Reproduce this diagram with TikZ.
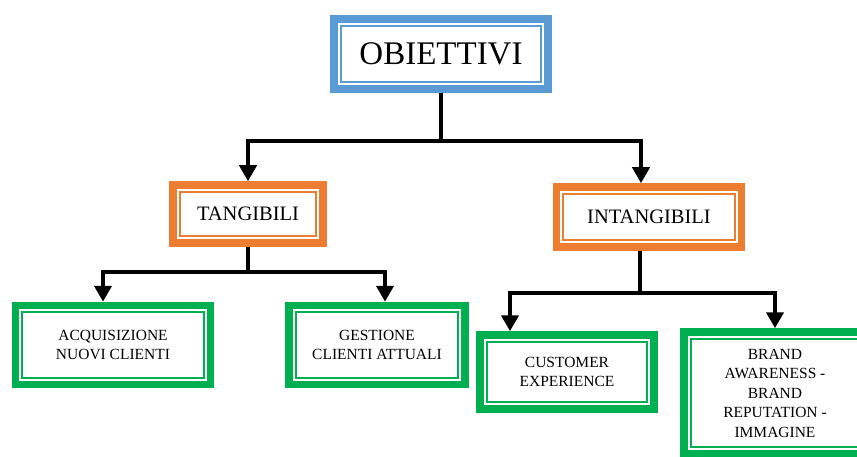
\documentclass[tikz,border=0pt]{standalone}
\usepackage{fontspec}
\setmainfont{Liberation Serif}
\usetikzlibrary{arrows.meta}
\definecolor{obiblue}{HTML}{5B9BD5}
\definecolor{obiorange}{HTML}{ED7D31}
\definecolor{obigreen}{HTML}{00B050}
\tikzset{
  framebox/.style={draw=#1, line width=7.5pt, fill=white, align=center, inner sep=2pt,
    path picture={\draw[#1, line width=2pt]
      ([shift={(6.8pt,6.8pt)}]path picture bounding box.south west) rectangle
      ([shift={(-6.8pt,-6.8pt)}]path picture bounding box.north east);}},
  bigtext/.style={font=\fontsize{33}{38}\selectfont},
  midtext/.style={font=\fontsize{20.5}{24}\selectfont},
  smalltext/.style={font=\fontsize{15.5}{19.5}\selectfont},
  link/.style={line width=4.6pt, black},
  arrowlink/.style={link, -{Triangle[width=17pt,length=16pt]}}
}
\begin{document}
\begin{tikzpicture}[x=1pt,y=1pt]
\useasboundingbox (0,0) rectangle (857,-457);
\node[framebox=obiblue, bigtext, minimum width=214pt, minimum height=70pt] (obj) at (441,-54) {OBIETTIVI};
\node[framebox=obiorange, midtext, minimum width=150pt, minimum height=58pt] (tan) at (248,-214) {TANGIBILI};
\node[framebox=obiorange, midtext, minimum width=185pt, minimum height=60pt] (int) at (649,-217) {INTANGIBILI};
\node[framebox=obigreen, smalltext, minimum width=195pt, minimum height=79pt] (acq) at (113,-345) {ACQUISIZIONE\\NUOVI CLIENTI};
\node[framebox=obigreen, smalltext, minimum width=176pt, minimum height=79pt] (ges) at (377,-345) {GESTIONE\\CLIENTI ATTUALI};
\node[framebox=obigreen, smalltext, minimum width=174pt, minimum height=74pt] (cus) at (567,-372) {CUSTOMER\\EXPERIENCE};
\node[framebox=obigreen, smalltext, minimum width=182pt, minimum height=122pt] (bra) at (775,-393) {BRAND\\AWARENESS -\\BRAND\\REPUTATION -\\IMMAGINE};
\coordinate (topfork) at (441,-141);
\coordinate (tanfork) at (248,-272);
\coordinate (intfork) at (640,-293);
\draw[link] (obj.south) -- (topfork);
\draw[arrowlink] (topfork) -| (tan.north);
\draw[arrowlink] (topfork) -| ([xshift=-8pt]int.north);
\draw[link] (tan.south) -- (tanfork);
\draw[arrowlink] (tanfork) -| ([xshift=-10pt]acq.north);
\draw[arrowlink] (tanfork) -| ([xshift=8pt]ges.north);
\draw[link] ([xshift=-9pt]int.south) -- (intfork);
\draw[arrowlink] (intfork) -| ([xshift=-57pt]cus.north);
\draw[arrowlink] (intfork) -| (bra.north);
\end{tikzpicture}
\end{document}
